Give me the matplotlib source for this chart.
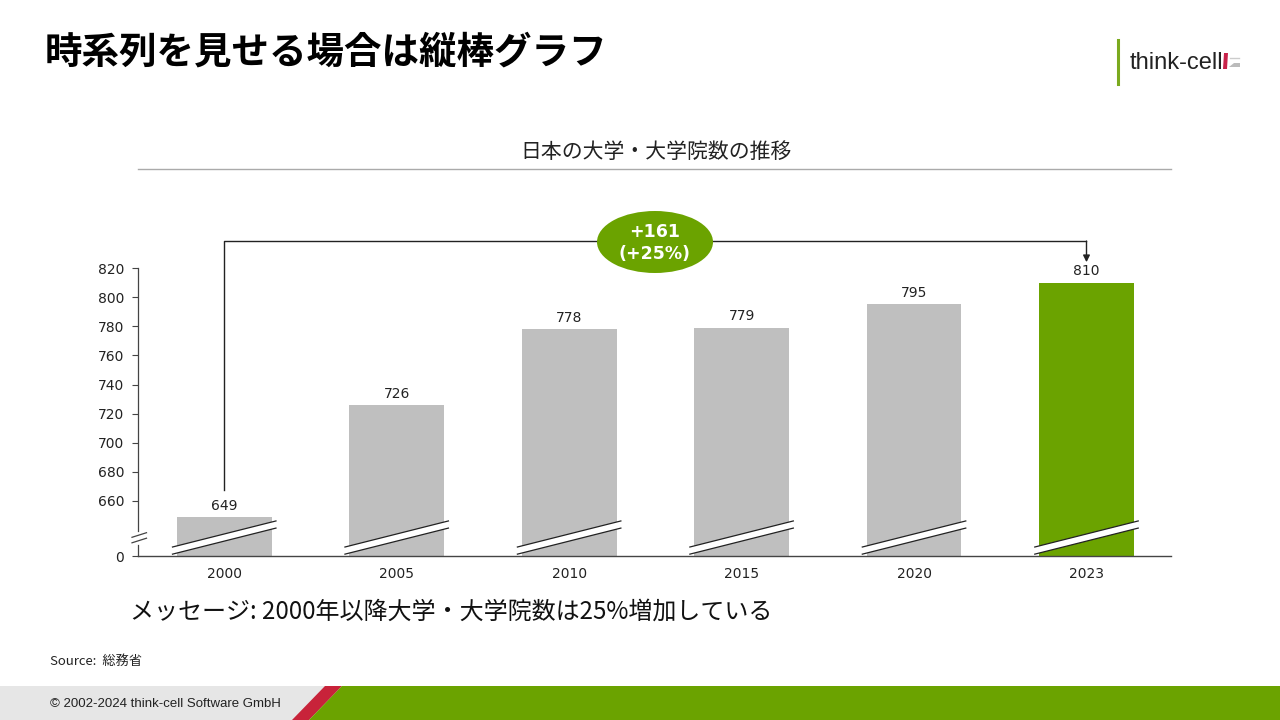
import matplotlib
matplotlib.use("Agg")
import matplotlib.pyplot as plt
from matplotlib.patches import Ellipse, Polygon, Rectangle
import numpy as np

plt.rcParams['font.family'] = ['DejaVu Sans', 'Noto Sans CJK JP']

# data
years = ['2000', '2005', '2010', '2015', '2020', '2023']
counts = [649, 726, 778, 779, 795, 810]
yticks = [660, 680, 700, 720, 740, 760, 780, 800, 820]
diff_label = '+161\n(+25%)'

GRAY = '#BFBFBF'
GREEN = '#6BA300'
JP = ['Noto Sans CJK JP', 'DejaVu Sans']

W, H = 1280, 720
fig = plt.figure(figsize=(12.8, 7.2), dpi=100)

def fx(px):
    return px / W

def fy(py):
    return 1 - py / H

# axes placed in pixel terms
ax_l, ax_r, ax_t, ax_b = 138, 1171, 268, 556
ax = fig.add_axes([fx(ax_l), fy(ax_b), fx(ax_r - ax_l), (ax_b - ax_t) / H])

# value of the axis floor (shown as 0, axis is broken)
ppu = (501 - 268) / 160.0
floor = 660 - (ax_b - 501) / ppu
ax.set_ylim(floor, 820)
ax.set_xlim(-0.5, 5.49)

x = np.arange(len(years))
colors = [GRAY] * (len(years) - 1) + [GREEN]
bw = 0.55
ax.bar(x, [c - floor for c in counts], bottom=floor, width=bw, color=colors, zorder=2)

for xi, c in zip(x, counts):
    ax.text(xi, c + 3, str(c), ha='center', va='bottom', fontsize=10, color='#222222')

# break bands across bars
for xi in x:
    x0, x1 = xi - 0.3, xi + 0.3
    y0, y1 = 628.4, 646.3
    d = 4.9
    ax.add_patch(Polygon([[x0, y0], [x1, y1], [x1, y1 - d], [x0, y0 - d]],
                         closed=True, facecolor='white', edgecolor='none', zorder=3))
    ax.plot([x0, x1], [y0, y1], color='#222222', lw=0.9, zorder=4)
    ax.plot([x0, x1], [y0 - d, y1 - d], color='#222222', lw=0.9, zorder=4)

ax.set_yticks([floor] + yticks)
ax.set_yticklabels(['0'] + [str(t) for t in yticks], fontsize=10, color='#222222')
ax.set_xticks(x)
ax.set_xticklabels(years, fontsize=10, color='#222222')
ax.tick_params(axis='x', length=0, pad=8)
ax.tick_params(axis='y', length=4, width=0.8, color='#444444', pad=6)

for s in ['top', 'right', 'left']:
    ax.spines[s].set_visible(False)
ax.spines['bottom'].set_color('#444444')
ax.spines['bottom'].set_linewidth(1.0)

# left spine with break gap
def ay(py):
    return (ax_b - py) / (ax_b - ax_t)

ax.plot([0, 0], [ay(531), 1], transform=ax.transAxes, color='#444444', lw=0.9, clip_on=False)
ax.plot([0, 0], [0, ay(545)], transform=ax.transAxes, color='#444444', lw=0.9, clip_on=False)
for off in (0, 5.5):
    ax.plot([-(6 / (ax_r - ax_l)), 8.5 / (ax_r - ax_l)], [ay(537.3 + off), ay(532.7 + off)],
            transform=ax.transAxes, color='#444444', lw=0.9, clip_on=False)

# difference connector
top = max(counts) + 28.5
ax.plot([0, 0, 5], [counts[0] + 18.5, top, top], color='#222222', lw=1.0, clip_on=False, zorder=5)
ax.annotate('', xy=(5, counts[-1] + 14), xytext=(5, top),
            arrowprops=dict(arrowstyle='-|>', color='#222222', lw=1.0, mutation_scale=10,
                            shrinkA=0, shrinkB=0), annotation_clip=False)
ell = Ellipse((fx(655), fy(242)), fx(116), 62 / H, transform=fig.transFigure,
              facecolor=GREEN, edgecolor='none', zorder=10)
fig.add_artist(ell)
fig.text(fx(655), fy(243), diff_label, ha='center', va='center', fontsize=12.5,
         fontweight='bold', color='white', linespacing=1.3, zorder=11)

# headings and texts
fig.text(fx(45), fy(52), '時系列を見せる場合は縦棒グラフ', fontsize=27, fontweight='bold',
         family=JP, va='center', ha='left', color='black')
fig.text(fx(656), fy(152), '日本の大学・大学院数の推移', fontsize=15, family=JP,
         ha='center', va='center', color='#222222')
fig.add_artist(plt.Line2D([fx(138), fx(1171)], [fy(169), fy(169)], color='#AAAAAA', lw=1.0))
fig.text(fx(130), fy(612), 'メッセージ: 2000年以降大学・大学院数は25%増加している', fontsize=17.3,
         family=JP, ha='left', va='center', color='#111111')
fig.text(fx(50), fy(661), 'Source:  総務省', fontsize=9.5, family=JP, ha='left', va='center',
         color='#222222')

# logo
fig.add_artist(plt.Line2D([fx(1118), fx(1118)], [fy(40), fy(84)], color='#7BAA1E', lw=2.2))
fig.text(fx(1130), fy(63), 'think-cell', fontsize=17, family=['Liberation Sans'],
         ha='left', va='center', color='#222222')
fig.add_artist(Polygon([[fx(1223), fy(69)], [fx(1227), fy(69)], [fx(1228), fy(53)], [fx(1224), fy(53)]],
                       closed=True, transform=fig.transFigure, facecolor='#C8234A', edgecolor='none'))
fig.add_artist(Polygon([[fx(1229), fy(67)], [fx(1240), fy(67)], [fx(1240), fy(63)], [fx(1234), fy(63)]],
                       closed=True, transform=fig.transFigure, facecolor='#BBBBBB', edgecolor='none'))
fig.add_artist(plt.Line2D([fx(1230), fx(1239)], [fy(58), fy(58)], color='#CCCCCC', lw=1.0))

# footer
fig.add_artist(Rectangle((0, 0), 1, 34 / H, transform=fig.transFigure,
                         facecolor='#E6E6E6', edgecolor='none'))
fig.add_artist(Polygon([[fx(292), 0], [fx(325), fy(686)], [fx(342), fy(686)], [fx(309), 0]],
                       closed=True, transform=fig.transFigure, facecolor='#C8233A', edgecolor='none'))
fig.add_artist(Polygon([[fx(309), 0], [fx(342), fy(686)], [1, fy(686)], [1, 0]],
                       closed=True, transform=fig.transFigure, facecolor='#6BA300', edgecolor='none'))
fig.text(fx(50), fy(704), '© 2002-2024 think-cell Software GmbH', fontsize=9.5,
         family=['Liberation Sans'], ha='left', va='center', color='#222222')

fig.savefig('out.png', dpi=100)
